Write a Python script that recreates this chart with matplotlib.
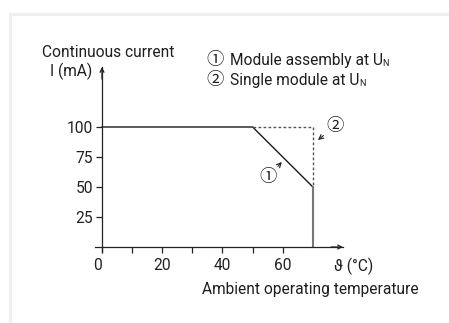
import matplotlib
matplotlib.use("Agg")
import matplotlib.pyplot as plt
from matplotlib.patches import Rectangle

# derating curves, temperature in degC, current in mA
temp_assembly = [0, 50, 70]
curr_assembly = [100, 100, 50]
temp_single = [50, 70, 70]
curr_single = [100, 100, 50]
temp_cutoff = [70, 70]
curr_cutoff = [50, 0]

xticks = [0, 10, 20, 30, 40, 50, 60]
xticklabels = ["0", "", "20", "", "40", "", "60"]
yticks = [25, 50, 75, 100]

W, H = 449, 323
FONT = ["Roboto", "Noto Sans CJK JP", "DejaVu Sans"]
plt.rcParams["font.family"] = FONT
FS = 11.2

fig = plt.figure(figsize=(W / 100, H / 100), dpi=100)
fig.patch.set_facecolor("white")

# faint panel frame
fig.patches.append(Rectangle((10 / W, -0.1), 1.2, (H - 14) / H + 0.1,
                             transform=fig.transFigure, facecolor="none",
                             edgecolor="#eef0ee", lw=2.2))

ax = fig.add_axes([95 / W, 71 / H, 248 / W, 185 / H])
ax.set_xlim(-2.32, 80)
ax.set_ylim(-4.17, 150)
ax.patch.set_alpha(0)

for s in ("top", "right"):
    ax.spines[s].set_visible(False)
for s in ("left", "bottom"):
    ax.spines[s].set_position(("data", 0))
    ax.spines[s].set_linewidth(0.9)
    ax.spines[s].set_color("#222222")

# arrow heads on the axes
ax.annotate("", xy=(80, 0), xytext=(76, 0),
            arrowprops=dict(arrowstyle="->", lw=0.9, color="#222222",
                            shrinkA=0, shrinkB=0, mutation_scale=7))
ax.annotate("", xy=(0, 150), xytext=(0, 140),
            arrowprops=dict(arrowstyle="->", lw=0.9, color="#222222",
                            shrinkA=0, shrinkB=0, mutation_scale=7))

ax.set_xticks(xticks)
ax.set_xticklabels(xticklabels)
ax.set_yticks(yticks)
ax.tick_params(axis="both", direction="out", length=4.5, width=0.9,
               color="#222222", labelsize=FS, labelcolor="#222222")
ax.tick_params(axis="x", pad=3.5)
ax.tick_params(axis="y", pad=2)
ax.get_xticklabels()[0].set_ha("right")

ax.plot(temp_assembly, curr_assembly, color="#1a1a1a", lw=1.0,
        solid_joinstyle="miter")
ax.plot(temp_single, curr_single, color="#555555", lw=1.0,
        linestyle=(0, (2, 1.6)))
ax.plot(temp_cutoff, curr_cutoff, color="#777777", lw=1.5)

tc = "#1e1e1e"
ax.text(-20, 162.5, "Continuous current", fontsize=FS, color=tc,
        ha="left", va="center")
ax.text(-3.3, 146.7, "I (mA)", fontsize=FS, color=tc,
        ha="right", va="center")

# legend: circled number, then label, then subscript
legend_rows = [("①", "Module assembly at U", 155.8),
               ("②", "Single module at U", 139)]
for num, label, y in legend_rows:
    ax.text(37.4, y, num, fontsize=12.5, color=tc, ha="center", va="center")
    t = ax.text(42.4, y, label, fontsize=FS, color=tc, ha="left", va="center")
    ax.annotate("N", xy=(1.0, 0.0), xycoords=t, fontsize=6.5, color=tc,
                ha="left", va="bottom")

ax.text(77, -15.8, "ϑ (°C)", fontsize=FS, color=tc, ha="left",
        va="center")
ax.text(105.2, -35.8, "Ambient operating temperature", fontsize=FS,
        color=tc, ha="right", va="center")

# callouts
ax.annotate("①", xy=(59.7, 70.8), xytext=(55.1, 58.3), fontsize=12.5,
            color=tc, ha="center", va="center",
            arrowprops=dict(arrowstyle="->", lw=0.8, color=tc,
                            shrinkA=7, shrinkB=0, mutation_scale=8))
ax.annotate("②", xy=(71.7, 89.2), xytext=(77.3, 100.5), fontsize=12.5,
            color=tc, ha="center", va="center",
            arrowprops=dict(arrowstyle="->", lw=0.8, color=tc,
                            shrinkA=7, shrinkB=0, mutation_scale=8))

fig.savefig("out.png", dpi=100, facecolor="white")
